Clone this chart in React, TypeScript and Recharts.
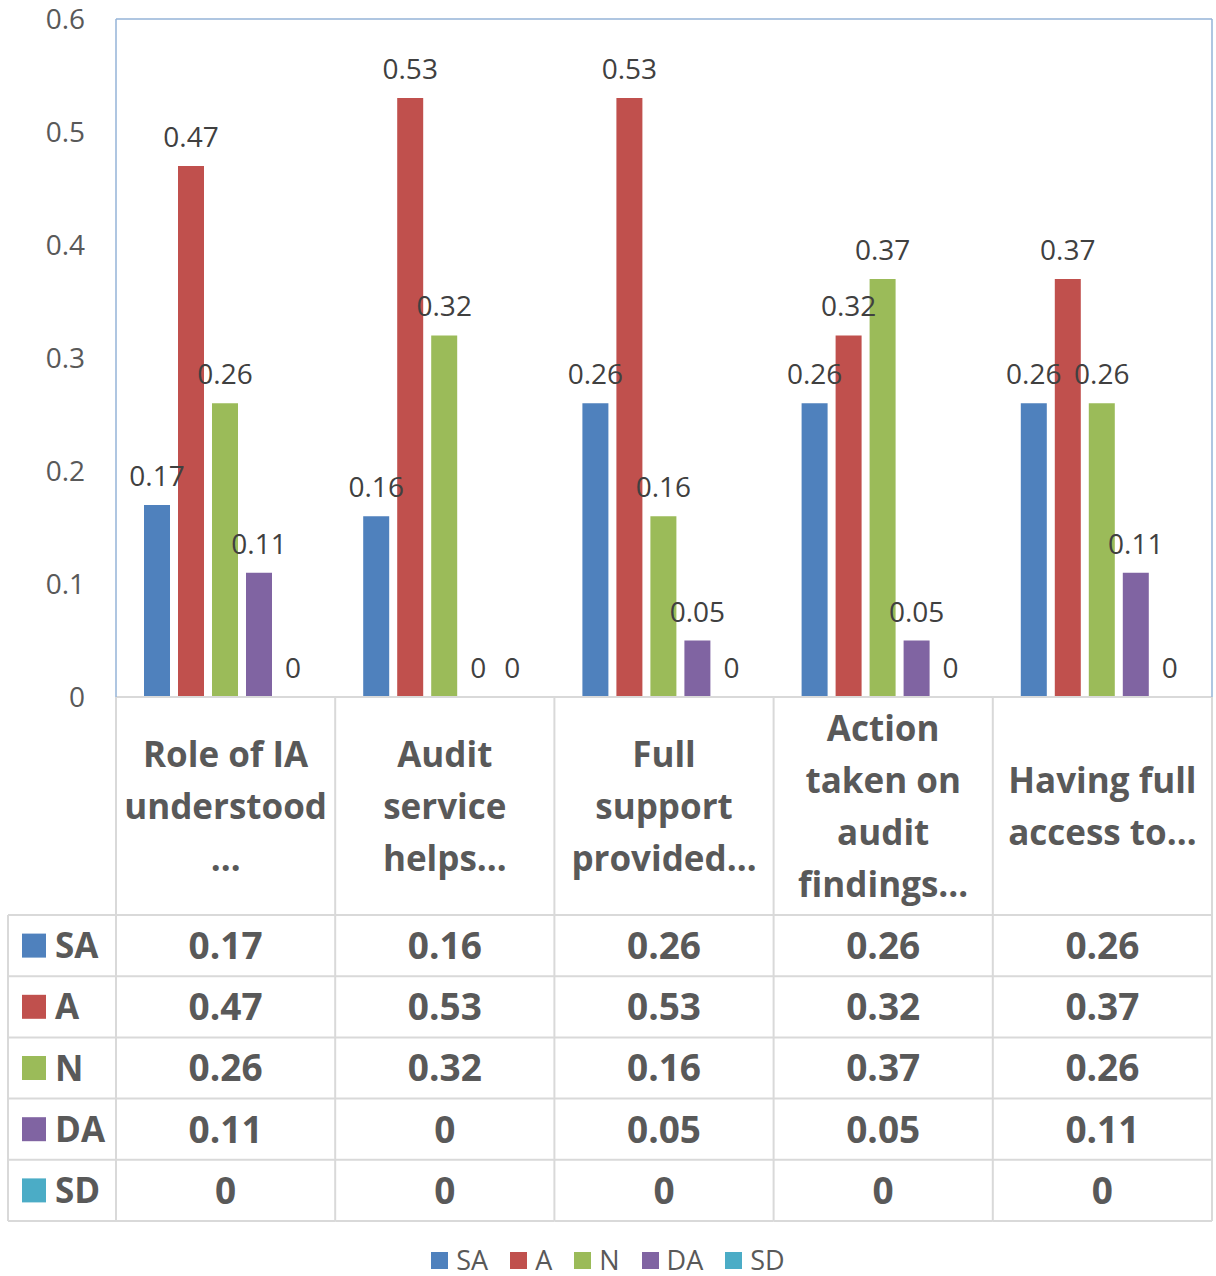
import React from "react";
import { BarChart, Bar, XAxis, YAxis, LabelList } from "recharts";

const categories = [
  "Role of IA\nunderstood\n…",
  "Audit\nservice\nhelps…",
  "Full\nsupport\nprovided…",
  "Action\ntaken on\naudit\nfindings…",
  "Having full\naccess to…",
];
const seriesNames = ["SA", "A", "N", "DA", "SD"];
const saValues = [0.17, 0.16, 0.26, 0.26, 0.26];
const aValues = [0.47, 0.53, 0.53, 0.32, 0.37];
const nValues = [0.26, 0.32, 0.16, 0.37, 0.26];
const daValues = [0.11, 0, 0.05, 0.05, 0.11];
const sdValues = [0, 0, 0, 0, 0];
const yTicks = [0, 0.1, 0.2, 0.3, 0.4, 0.5, 0.6];
const seriesColors = ["#4f81bd", "#c0504d", "#9bbb59", "#8064a2", "#4bacc6"];

const seriesValues = [saValues, aValues, nValues, daValues, sdValues];
const data = categories.map((name, i) => {
  const row: Record<string, any> = { name };
  seriesNames.forEach((s, k) => {
    row[s] = seriesValues[k][i];
  });
  return row;
});

const W = 1216;
const H = 1276;
const PLOT_LEFT = 116;
const PLOT_RIGHT = 1212;
const PLOT_TOP = 19;
const AXIS_Y = 697;
const HEADER_H = 218;
const HEADER_BOTTOM = AXIS_Y + HEADER_H;
const ROW_H = 61.2;
const TABLE_LEFT = 8;
const BAND = (PLOT_RIGHT - PLOT_LEFT) / categories.length;
const GRID = "#d9d9d9";
const BORDER = "#95b3d7";
const TEXT = "#595959";
const FONT = "'Open Sans', 'DejaVu Sans', sans-serif";
const HEADER_FS = 35;
const VALUE_FS = 37;
const HEADER_LH = 52;
const TABLE_BOTTOM = HEADER_BOTTOM + ROW_H * seriesNames.length;

function TableColumn(props: any) {
  const { x, y, payload, index } = props;
  const left = x - BAND / 2;
  const right = x + BAND / 2;
  const lines = String(payload.value).split("\n");
  const headerCenter = (y + HEADER_BOTTOM) / 2;
  const firstCenter = headerCenter - ((lines.length - 1) * HEADER_LH) / 2;
  const hBase = HEADER_FS * 0.36;
  const vBase = VALUE_FS * 0.36;
  const rowLines = seriesNames.map((_, k) => HEADER_BOTTOM + k * ROW_H);
  rowLines.push(TABLE_BOTTOM);
  return (
    <g>
      {index === 0 && (
        <g>
          <line x1={left} x2={left} y1={y} y2={TABLE_BOTTOM} stroke={GRID} strokeWidth={2} />
          <line x1={TABLE_LEFT} x2={TABLE_LEFT} y1={HEADER_BOTTOM} y2={TABLE_BOTTOM} stroke={GRID} strokeWidth={2} />
          {rowLines.map((ly, k) => (
            <line key={"l" + k} x1={TABLE_LEFT} x2={left} y1={ly} y2={ly} stroke={GRID} strokeWidth={2} />
          ))}
          {seriesNames.map((s, k) => {
            const cy = HEADER_BOTTOM + (k + 0.5) * ROW_H;
            return (
              <g key={s}>
                <rect x={22} y={cy - 12} width={24} height={24} fill={seriesColors[k]} />
                <text x={55} y={cy + hBase} fontSize={HEADER_FS} fontWeight="bold" fill={TEXT} fontFamily={FONT}>
                  {s}
                </text>
              </g>
            );
          })}
        </g>
      )}
      <line x1={right} x2={right} y1={y} y2={TABLE_BOTTOM} stroke={GRID} strokeWidth={2} />
      {rowLines.map((ly, k) => (
        <line key={"r" + k} x1={left} x2={right} y1={ly} y2={ly} stroke={GRID} strokeWidth={2} />
      ))}
      {lines.map((t, k) => (
        <text
          key={"h" + k}
          x={x}
          y={firstCenter + k * HEADER_LH + hBase}
          textAnchor="middle"
          fontSize={HEADER_FS}
          fontWeight="bold"
          fill={TEXT}
          fontFamily={FONT}
        >
          {t}
        </text>
      ))}
      {seriesNames.map((s, k) => (
        <text
          key={"v" + s}
          x={x}
          y={HEADER_BOTTOM + (k + 0.5) * ROW_H + vBase}
          textAnchor="middle"
          fontSize={VALUE_FS}
          fontWeight="bold"
          fill={TEXT}
          fontFamily={FONT}
        >
          {String(seriesValues[k][index])}
        </text>
      ))}
    </g>
  );
}

export default function App() {
  return (
    <div
      style={{
        position: "absolute",
        left: 0,
        top: 0,
        width: W,
        height: H,
        background: "#fff",
        fontFamily: FONT,
      }}
    >
      <BarChart
        width={W}
        height={H}
        data={data}
        margin={{ top: PLOT_TOP - 1, right: W - PLOT_RIGHT - 1, left: 0, bottom: H - AXIS_Y - HEADER_H }}
        barCategoryGap={28}
        barGap={8}
      >
        <XAxis
          dataKey="name"
          height={HEADER_H}
          interval={0}
          tickLine={false}
          tickSize={0}
          tickMargin={0}
          axisLine={{ stroke: GRID, strokeWidth: 2 }}
          tick={<TableColumn />}
        />
        <XAxis
          xAxisId="top"
          orientation="top"
          dataKey="name"
          height={1}
          tick={false}
          tickLine={false}
          axisLine={{ stroke: BORDER, strokeWidth: 1.5 }}
        />
        <YAxis
          width={PLOT_LEFT}
          domain={[0, 0.6]}
          ticks={yTicks}
          tickLine={false}
          tickSize={0}
          tickMargin={31}
          axisLine={{ stroke: BORDER, strokeWidth: 1.5 }}
          tick={{ fill: TEXT, fontSize: 28, fontFamily: FONT }}
        />
        <YAxis
          yAxisId="right"
          orientation="right"
          width={1}
          domain={[0, 0.6]}
          tick={false}
          tickLine={false}
          axisLine={{ stroke: BORDER, strokeWidth: 1.5 }}
        />
        {seriesNames.map((s, k) => (
          <Bar key={s} dataKey={s} fill={seriesColors[k]} minPointSize={0.001} isAnimationActive={false}>
            <LabelList
              dataKey={s}
              position="top"
              offset={19}
              fill="#404040"
              fontSize={28}
              fontFamily={FONT}
              formatter={(v: any) => String(v)}
            />
          </Bar>
        ))}
      </BarChart>
      <div
        style={{
          position: "absolute",
          left: 0,
          top: 1246,
          width: W,
          display: "flex",
          justifyContent: "center",
          alignItems: "center",
          gap: 22,
          fontSize: 27,
          color: TEXT,
          lineHeight: "28px",
        }}
      >
        {seriesNames.map((s, k) => (
          <div key={s} style={{ display: "flex", alignItems: "center" }}>
            <div style={{ width: 17, height: 17, background: seriesColors[k], marginRight: 8 }} />
            <span>{s}</span>
          </div>
        ))}
      </div>
    </div>
  );
}
